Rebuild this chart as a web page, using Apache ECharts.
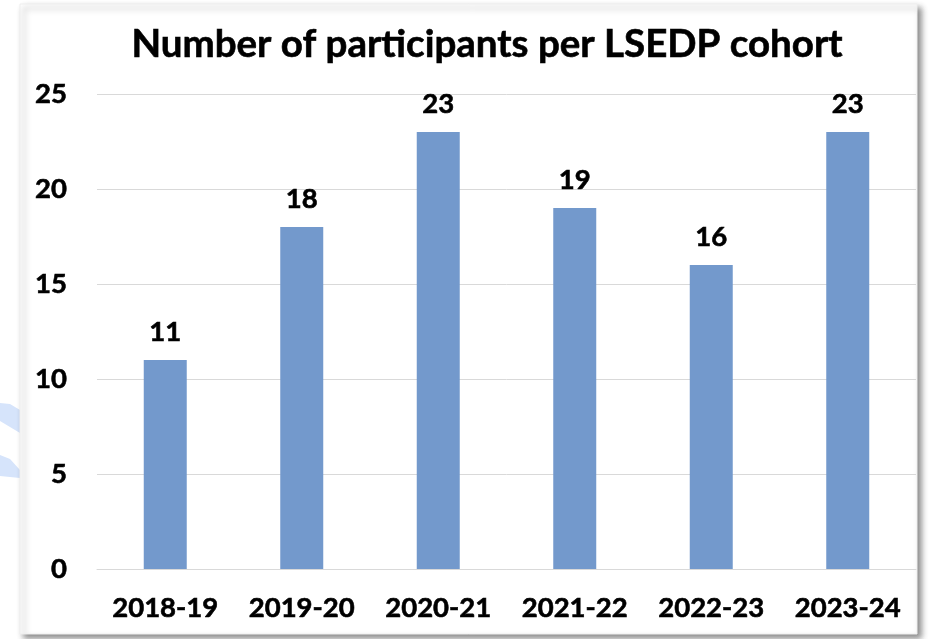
<!DOCTYPE html>
<html>
<head>
<meta charset="utf-8">
<script src="https://cdn.jsdelivr.net/npm/echarts@6/dist/echarts.min.js"></script>
<style>
  html, body { margin: 0; padding: 0; background: #ffffff; }
  #chart { width: 933px; height: 639px; }
</style>
</head>
<body>
<div id="chart"></div>
<script>
// Cohort years and participant counts
const cohorts = ['2018-19', '2019-20', '2020-21', '2021-22', '2022-23', '2023-24'];
const participants = [11, 18, 23, 19, 16, 23];
const yTicks = [0, 5, 10, 15, 20, 25];

const FONT = 'Lato';
// a thin outline in the text colour gives the heavier bold look
const heavy = { textBorderColor: '#000000', textBorderWidth: 0.6 };
const chart = echarts.init(document.getElementById('chart'), null, { renderer: 'canvas' });

chart.setOption({
  backgroundColor: '#ffffff',
  animation: false,
  title: {
    text: 'Number of participants per LSEDP cohort',
    left: 482,
    textAlign: 'center',
    top: 20,
    textStyle: Object.assign({ fontFamily: FONT, fontWeight: 'bold', fontSize: 38.5, color: '#000000' }, heavy)
  },
  graphic: [
    // soft blue decoration peeking out left of the card
    {
      type: 'polygon', z: -20,
      shape: { points: [[0, 403], [10, 404], [20, 410], [20, 433], [10, 427], [0, 421]] },
      style: { fill: '#d6e4fb' }
    },
    {
      type: 'polygon', z: -20,
      shape: { points: [[0, 455], [10, 459], [20, 470], [20, 478], [10, 477], [0, 476]] },
      style: { fill: '#d6e4fb' }
    },
    // the card with a drop shadow
    {
      type: 'rect', z: -10,
      shape: { x: 20, y: 4, width: 897, height: 630 },
      style: {
        fill: '#ffffff',
        stroke: '#eeeeee', lineWidth: 1,
        shadowBlur: 6, shadowOffsetX: 4, shadowOffsetY: 4,
        shadowColor: 'rgba(0,0,0,0.45)'
      }
    }
  ],
  grid: { left: 97, right: 17, top: 94, bottom: 70, containLabel: false },
  xAxis: {
    type: 'category',
    data: cohorts,
    axisLine: { show: true, lineStyle: { color: '#d9d9d9', width: 1 } },
    axisTick: { show: false },
    axisLabel: Object.assign({
      interval: 0, hideOverlap: false,
      margin: 25, color: '#000000',
      fontFamily: FONT, fontWeight: 'bold', fontSize: 27.5
    }, heavy)
  },
  yAxis: {
    type: 'value',
    min: yTicks[0],
    max: yTicks[yTicks.length - 1],
    interval: 5,
    axisLine: { show: false },
    axisTick: { show: false },
    splitLine: { lineStyle: { color: '#d9d9d9', width: 1 } },
    axisLabel: Object.assign({
      margin: 30, color: '#000000',
      fontFamily: FONT, fontWeight: 'bold', fontSize: 27.5
    }, heavy)
  },
  series: [{
    type: 'bar',
    data: participants,
    barWidth: '31.5%',
    itemStyle: { color: '#7399cc' },
    label: Object.assign({
      show: true, position: 'top', distance: 14,
      color: '#000000', fontFamily: FONT, fontWeight: 'bold', fontSize: 27.5
    }, heavy)
  }]
});
</script>
</body>
</html>
